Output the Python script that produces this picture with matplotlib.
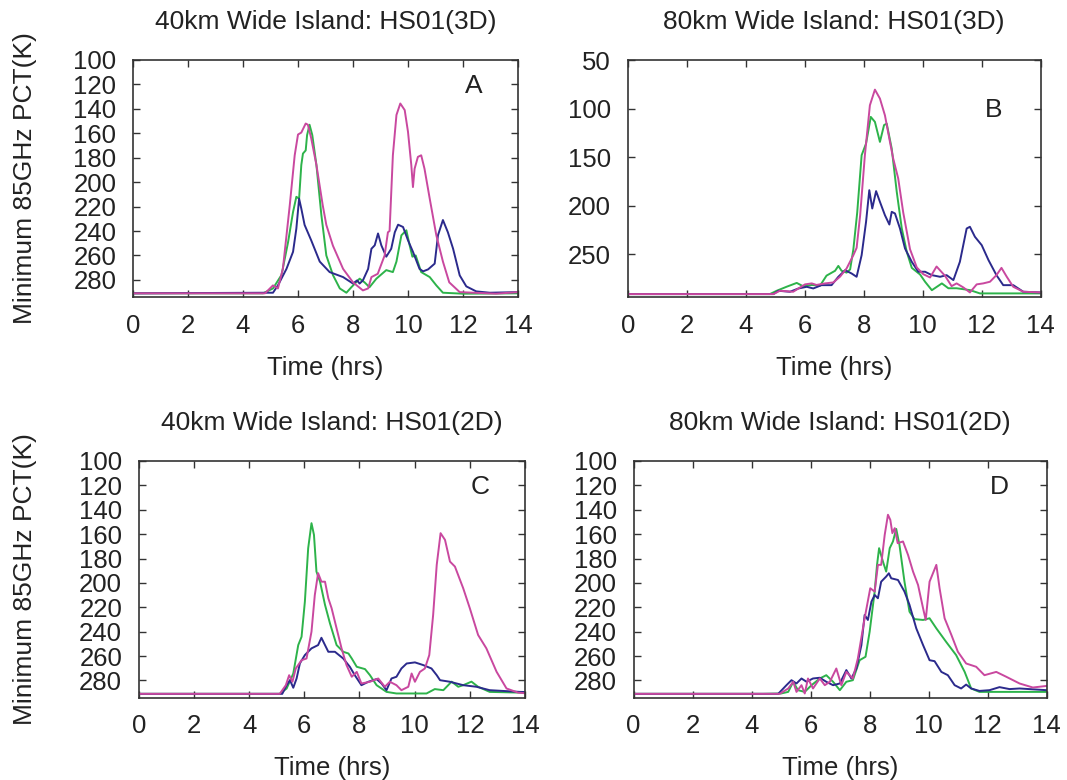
import numpy as np
import matplotlib.pyplot as plt

plt.rcParams['font.family'] = ['Liberation Sans', 'DejaVu Sans']

# Farben
c_mag = '#c9489f'
c_grn = '#2db34a'
c_nav = '#2b2a8c'

# Panel A: 40km, 3D
a_mag_t = [0, 4.8, 5.09, 5.27, 5.45, 5.7, 5.88, 6.0, 6.12, 6.28, 6.36, 6.48, 6.67, 6.9, 7.03, 7.27,
           7.64, 8.0, 8.36, 8.55, 8.67, 8.9, 9.15, 9.27, 9.33, 9.45, 9.58, 9.72, 9.88, 10.0, 10.12,
           10.18, 10.24, 10.36, 10.48, 10.6, 10.79, 11.03, 11.27, 11.5, 11.88, 13.2, 14]
a_mag_v = [291, 291, 284.5, 287, 271, 219, 178, 161, 159.4, 152, 153, 164, 186, 219, 235, 252,
           271, 282, 288.6, 287, 277.7, 275, 260, 241, 240, 178, 145, 135.6, 141, 158.8, 186,
           204, 189, 179.3, 178, 189, 213.5, 243.5, 265, 282, 290, 291.3, 290]
a_grn_t = [0, 4.73, 5.09, 5.4, 5.64, 5.82, 5.94, 6.04, 6.12, 6.18, 6.28, 6.33, 6.42, 6.52, 6.67,
           6.85, 7.03, 7.27, 7.52, 7.76, 7.94, 8.24, 8.42, 8.6, 8.85, 9.21, 9.45, 9.58, 9.76, 9.94,
           10.06, 10.16, 10.28, 10.48, 10.79, 11.03, 11.27, 12.0, 14]
a_grn_v = [291, 291, 287, 276, 249, 224.4, 212, 213.5, 186, 176.6, 174, 161.5, 153, 161.5, 186,
           227, 260, 276, 287, 290.5, 286, 279, 282, 286, 279, 272, 273.6, 265, 243.5, 239.4,
           251.7, 261, 260, 273.6, 277.7, 284.5, 290.5, 291.3, 291]
a_nav_t = [0, 4.9, 5.09, 5.27, 5.58, 5.82, 5.94, 6.04, 6.12, 6.24, 6.48, 6.79, 7.15, 7.64, 8.0,
           8.15, 8.24, 8.36, 8.55, 8.67, 8.79, 8.91, 9.03, 9.21, 9.39, 9.52, 9.64, 9.82, 10.0,
           10.18, 10.42, 10.55, 10.73, 10.97, 11.09, 11.27, 11.45, 11.64, 11.88, 12.12, 12.48,
           12.97, 14]
a_nav_v = [291, 290.5, 290.5, 284.5, 271, 257, 238, 213.5, 221.6, 235, 247.6, 265, 273.6, 277.7, 283,
           280.4, 283, 280.4, 271, 254.5, 251.7, 242, 251.7, 261, 254.5, 241, 234.8, 236.7, 247.6,
           257, 271, 273, 271.4, 266.7, 243.5, 231, 241, 254.5, 276.3, 285.3, 289.4,
           290.5, 290]

# Panel B: 80km, 3D
b_mag_t = [0, 4.94, 5.16, 5.61, 6.01, 6.24, 6.4, 6.69, 6.97, 7.2, 7.42, 7.65, 7.76, 7.88, 8.04,
           8.21, 8.38, 8.55, 8.72, 8.89, 9.0, 9.17, 9.34, 9.57, 9.8, 10.02, 10.25, 10.47, 10.76,
           10.98, 11.15, 11.38, 11.6, 11.83, 12.05, 12.28, 12.5, 12.67, 12.85, 13.07, 13.41, 14]
b_mag_v = [291, 291, 287.6, 288.6, 281, 280, 281.6, 280, 279, 273, 264.6, 250.9, 243.4, 209.8, 148,
           96.6, 80.5, 89.7, 107, 134.3, 151.5, 172, 207, 244.8, 263.6, 270.5, 273.9, 262.6, 272.3,
           282.8, 280, 284.2, 289.3, 281, 280, 278.3, 271.5, 264, 273.2, 283.5, 288.6, 289.3]
b_grn_t = [0, 4.82, 5.05, 5.39, 5.73, 5.95, 6.24, 6.52, 6.74, 7.03, 7.14, 7.25, 7.42, 7.54, 7.65,
           7.78, 7.93, 8.08, 8.24, 8.38, 8.55, 8.69, 8.78, 8.95, 9.12, 9.29, 9.46, 9.63, 9.91,
           10.08, 10.31, 10.65, 10.87, 11.15, 11.6, 11.94, 14]
b_grn_v = [291, 291, 287.6, 283.4, 279.5, 283, 281.6, 282.3, 272, 267, 262, 267, 268.9, 265.6, 244.8,
           207, 148, 136, 108.6, 113.7, 134.3, 117, 115.5, 141.2, 185.7, 223.3, 247.5, 264, 270.8,
           278.3, 287, 280, 285, 285, 286.9, 290.3, 290.3]
b_nav_t = [0, 4.94, 5.11, 5.5, 5.79, 6.07, 6.29, 6.57, 6.91, 7.14, 7.37, 7.59, 7.76, 7.93, 8.08,
           8.19, 8.29, 8.42, 8.55, 8.72, 8.87, 8.95, 9.06, 9.23, 9.4, 9.63, 9.85, 10.08, 10.31,
           10.59, 10.81, 11.04, 11.26, 11.49, 11.6, 11.77, 12.0, 12.23, 12.5, 12.73, 13.07, 13.41, 14]
b_nav_v = [291, 291, 287.6, 288.6, 285.2, 283.5, 285.2, 281.8, 281.8, 273.2, 266.4, 269.8, 273.2, 250.9, 216.6,
           184, 202.9, 185, 196, 209.8, 219.4, 206.3, 208, 223.5, 244, 257.8, 268, 268, 271.5,
           273.2, 271.5, 276.6, 257.8, 223.5, 221.7, 232, 240.6, 256, 271.5, 281.8, 281.8, 288.6, 289.3]

# Panel C: 40km, 2D
c_mag_t = [0, 5.11, 5.33, 5.45, 5.57, 5.69, 5.9, 6.08, 6.26, 6.38, 6.5, 6.62, 6.75, 6.87, 6.99,
           7.17, 7.35, 7.53, 7.72, 7.9, 8.07, 8.38, 8.68, 8.92, 9.1, 9.34, 9.52, 9.77, 9.89, 10.01,
           10.19, 10.37, 10.53, 10.67, 10.8, 10.94, 11.1, 11.28, 11.46, 11.76, 12.0, 12.3, 12.6,
           12.97, 13.33, 13.75, 14]
c_mag_v = [291, 291, 283.9, 275.7, 281.1, 270.2, 263.4, 262, 240, 210, 192, 199, 199, 212.6, 220.8,
           237.3, 253.7, 267.4, 277, 273, 282.5, 281.1, 278.4, 285.2, 281.1, 283.9, 288, 285.2, 274.3, 281.1,
           273, 270.2, 259.2, 226.3, 185.2, 159.2, 164.7, 182.5, 186.6, 204.4, 220.8, 242.7, 253.7,
           272.9, 286.6, 290, 290.5]
c_grn_t = [0, 5.11, 5.36, 5.6, 5.78, 5.9, 6.02, 6.14, 6.26, 6.35, 6.44, 6.57, 6.75, 6.93, 7.17,
           7.41, 7.6, 7.72, 7.9, 8.2, 8.38, 8.62, 8.98, 9.34, 10.43, 10.73, 11.04, 11.34, 11.58,
           11.76, 12.06, 12.3, 12.72, 13.81, 14]
c_grn_v = [291, 291, 286.6, 274.3, 251, 244.2, 215.4, 171.6, 151, 160.6, 190.7, 199, 218, 233.2, 251,
           256.5, 257.9, 262, 268.8, 270.7, 275.7, 283.9, 289.4, 290.7, 290.7, 287.1, 288, 281, 285.2,
           283.9, 281, 285.2, 289.4, 290, 290]
c_nav_t = [0, 5.2, 5.36, 5.48, 5.6, 5.72, 5.84, 6.02, 6.26, 6.5, 6.62, 6.75, 6.87, 7.11, 7.41,
           7.65, 7.83, 8.07, 8.32, 8.62, 8.8, 8.98, 9.16, 9.34, 9.52, 9.71, 10.01, 10.31, 10.61,
           10.8, 10.92, 11.28, 11.76, 12.24, 12.72, 13.81, 14]
c_nav_v = [291, 291, 283.9, 279.8, 286, 278.4, 266, 259.2, 253.7, 251, 245, 251, 256.5, 256.5, 262,
           268.8, 275.7, 283.9, 281.1, 278.9, 282.5, 288, 278.4, 277, 270.2, 266.1, 265.2, 267.4, 270.2,
           275.7, 279.8, 281.1, 283.9, 285.2, 288, 289.4, 289.5]

# Panel D: 80km, 2D
d_mag_t = [0, 4.95, 5.24, 5.41, 5.52, 5.69, 5.8, 5.91, 6.08, 6.31, 6.48, 6.65, 6.87, 7.04, 7.21,
           7.43, 7.6, 7.83, 8.02, 8.17, 8.28, 8.39, 8.51, 8.62, 8.7, 8.77, 8.85, 8.95, 9.13, 9.3,
           9.47, 9.64, 9.81, 9.9, 10.03, 10.26, 10.37, 10.54, 10.77, 10.99, 11.27, 11.61, 11.89,
           12.29, 12.63, 13.08, 13.53, 14]
d_mag_v = [291, 291, 286.6, 281.1, 289.4, 283.9, 290.7, 278.4, 286.6, 278.4, 283.9, 281.1, 270.2, 283.9, 273,
           278.4, 262, 229, 204.4, 207.1, 185.2, 185.2, 160.6, 144.1, 148.3, 159.2, 155.1, 167.4, 166, 177,
           190.7, 201.7, 220.8, 230.4, 199, 185.2, 204.4, 229, 242.7, 256.5, 266.1, 268.8, 275.7,
           273, 277, 282.5, 285.8, 284.5]
d_grn_t = [0, 4.39, 5.0, 5.24, 5.41, 5.57, 5.8, 6.03, 6.31, 6.53, 6.76, 6.99, 7.21, 7.43, 7.66,
           7.86, 8.0, 8.17, 8.25, 8.32, 8.45, 8.56, 8.68, 8.79, 8.9, 9.01, 9.18, 9.35, 9.52, 9.81,
           10.03, 10.26, 10.59, 10.93, 11.22, 11.44, 11.72, 14]
d_grn_v = [291, 291, 290.7, 289.4, 281.1, 288, 289.4, 283.9, 278.4, 275.7, 281.1, 288, 281.1, 279.8, 263.4,
           260.6, 240, 207.1, 185.2, 171.5, 182.5, 190.7, 171.5, 166, 155.7, 168.8, 199, 223.6, 229.7, 230.4,
           229, 237.3, 248.3, 259.2, 273, 286.6, 289.4, 289.4]
d_nav_t = [0, 4.9, 5.18, 5.35, 5.52, 5.69, 5.86, 6.08, 6.31, 6.53, 6.76, 6.99, 7.21, 7.38, 7.55,
           7.72, 7.83, 7.94, 8.06, 8.17, 8.28, 8.39, 8.56, 8.65, 8.73, 8.96, 9.18, 9.35, 9.58, 9.81,
           10.03, 10.2, 10.43, 10.65, 10.88, 11.1, 11.27, 11.44, 11.72, 12.06, 12.4, 12.74, 13.08, 14]
d_nav_v = [291, 291, 283.9, 279.8, 282.5, 278.4, 281.1, 278.4, 277.8, 281.1, 283.9, 282.5, 271.5, 278.4, 270.2,
           251, 226.3, 230.4, 215.4, 209.9, 212.6, 199, 194.8, 192.1, 196.2, 197.6, 207.1, 218, 237.3, 251,
           263.4, 264.2, 273, 275.7, 283.9, 286.6, 283.4, 286.6, 288.6, 288, 285.5, 287.1, 286.6, 288]

titles = ['40km Wide Island: HS01(3D)', '80km Wide Island: HS01(3D)',
          '40km Wide Island: HS01(2D)', '80km Wide Island: HS01(2D)']
letters = ['A', 'B', 'C', 'D']
xticks = [0, 2, 4, 6, 8, 10, 12, 14]
yticks_fine = [100, 120, 140, 160, 180, 200, 220, 240, 260, 280]
yticks_coarse = [50, 100, 150, 200, 250]

# Achsenpositionen in Pixeln (links, oben, rechts, unten)
W, H = 1067, 780
pos = [(133, 60, 518, 297), (627.7, 60, 1040.7, 297),
       (138.8, 461, 525, 697.5), (633.6, 461, 1046.7, 697.5)]

panels = [
    [(a_grn_t, a_grn_v, c_grn), (a_nav_t, a_nav_v, c_nav), (a_mag_t, a_mag_v, c_mag)],
    [(b_grn_t, b_grn_v, c_grn), (b_nav_t, b_nav_v, c_nav), (b_mag_t, b_mag_v, c_mag)],
    [(c_grn_t, c_grn_v, c_grn), (c_nav_t, c_nav_v, c_nav), (c_mag_t, c_mag_v, c_mag)],
    [(d_grn_t, d_grn_v, c_grn), (d_nav_t, d_nav_v, c_nav), (d_mag_t, d_mag_v, c_mag)],
]

txt = '#222222'
fig = plt.figure(figsize=(W / 100, H / 100), dpi=100)

for i in range(4):
    x0, y0, x1, y1 = pos[i]
    ax = fig.add_axes([x0 / W, 1 - y1 / H, (x1 - x0) / W, (y1 - y0) / H])
    for t, v, col in panels[i]:
        ax.plot(t, v, color=col, linewidth=1.4)

    ax.set_xlim(0, 14)
    ax.set_xticks(xticks)
    if i == 1:
        ax.set_ylim(294, 50)
        ax.set_yticks(yticks_coarse)
    else:
        ax.set_ylim(294, 100)
        ax.set_yticks(yticks_fine)

    ax.tick_params(direction='in', top=True, right=True, length=5, width=1,
                   labelsize=18.5, pad=12, colors='#333333', labelcolor=txt)
    for s in ax.spines.values():
        s.set_color('#333333')
        s.set_linewidth(1.2)

    ax.set_title(titles[i], fontsize=19, color=txt, pad=22)
    ax.set_xlabel('Time (hrs)', fontsize=18.5, color=txt, labelpad=13)
    if i % 2 == 0:
        ax.set_ylabel('Minimum 85GHz PCT(K)', fontsize=19, color=txt)
        ax.yaxis.set_label_coords(-(x0 - 37) / (x1 - x0), 0.5)

    ly = 0.79 if i == 1 else 0.89
    ax.text(0.885, ly, letters[i], transform=ax.transAxes, fontsize=19,
            color=txt, ha='center', va='center')

plt.savefig('out.png', dpi=100)
